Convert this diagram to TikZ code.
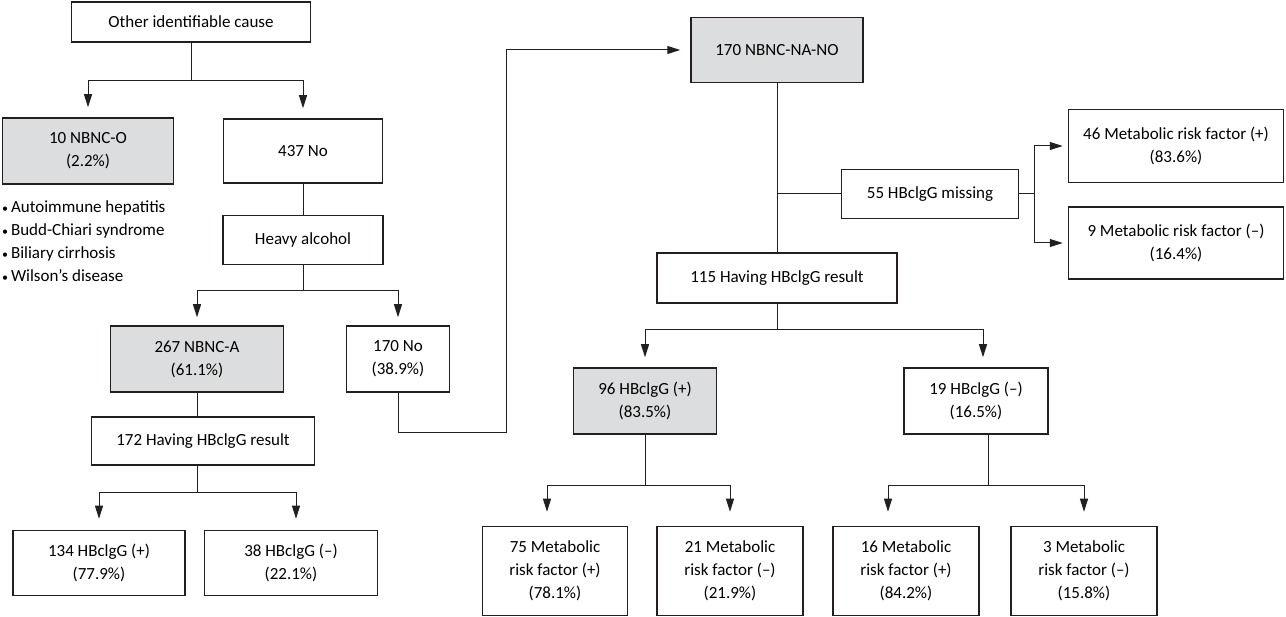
\documentclass[tikz,border=0pt]{standalone}
\usepackage{fontspec}
\setmainfont{Carlito}
\usetikzlibrary{arrows.meta,calc}
\definecolor{ink}{RGB}{35,31,32}
\definecolor{shade}{RGB}{220,221,222}
\newcommand{\dotitem}{{\fontsize{12}{12}\selectfont •}\,}

\begin{document}
\begin{tikzpicture}
        [x=1pt,y=-1pt,
        box/.style={draw=ink, line width=1.5pt, align=center, inner sep=0pt,
          font=\fontsize{17}{23}\selectfont},
        grey/.style={box, fill=shade},
        link/.style={draw=ink, line width=1pt},
        arr/.style={link, -{Triangle[length=13pt,width=8pt]}}]
        \useasboundingbox (0,0) rectangle (1286,617);
        % left branch
        \node[box, minimum width=239, minimum height=40] (cause) at (191,22) {Other identifiable cause};
        \node[grey, minimum width=171, minimum height=66] (nbnco) at (88,151) {10 NBNC-O\\(2.2\%)};
        \node[box, minimum width=159, minimum height=64] (no437) at (303,151) {437 No};
        \node[anchor=north west, align=left, inner sep=0pt, font=\fontsize{17}{23}\selectfont]
          (causes) at (2,200) {\dotitem Autoimmune hepatitis\\\dotitem Budd-Chiari syndrome\\\dotitem Biliary cirrhosis\\\dotitem Wilson’s disease};
        \node[box, minimum width=160, minimum height=49] (heavy) at (303,240) {Heavy alcohol};
        \node[grey, minimum width=173, minimum height=66] (nbnca) at (197,359) {267 NBNC-A\\(61.1\%)};
        \node[box, minimum width=103, minimum height=66] (no170) at (398,359) {170 No\\(38.9\%)};
        \node[box, minimum width=223, minimum height=48] (have172) at (203,441) {172 Having HBclgG result};
        \node[box, minimum width=172, minimum height=65] (hb134) at (99,563) {134 HBclgG (+)\\(77.9\%)};
        \node[box, minimum width=173, minimum height=65] (hb38) at (291,563) {38 HBclgG (–)\\(22.1\%)};
        % right branch
        \node[grey, minimum width=172, minimum height=65] (nano) at (777,50) {170 NBNC-NA-NO};
        \node[box, minimum width=177, minimum height=49] (miss55) at (930,194) {55 HBclgG missing};
        \node[box, minimum width=215, minimum height=73] (met46) at (1176,146) {46 Metabolic risk factor (+)\\(83.6\%)};
        \node[box, minimum width=215, minimum height=72] (met9) at (1176,243) {9 Metabolic risk factor (–)\\(16.4\%)};
        \node[box, minimum width=240, minimum height=50] (have115) at (777,278) {115 Having HBclgG result};
        \node[grey, minimum width=143, minimum height=66] (hb96) at (645,401) {96 HBclgG (+)\\(83.5\%)};
        \node[box, minimum width=144, minimum height=66] (hb19) at (976,401) {19 HBclgG (–)\\(16.5\%)};
        \node[box, minimum width=145, minimum height=89] (m75) at (555,571) {75 Metabolic\\risk factor (+)\\(78.1\%)};
        \node[box, minimum width=146, minimum height=89] (m21) at (730,571) {21 Metabolic\\risk factor (–)\\(21.9\%)};
        \node[box, minimum width=146, minimum height=89] (m16) at (906,571) {16 Metabolic\\risk factor (+)\\(84.2\%)};
        \node[box, minimum width=146, minimum height=89] (m3) at (1084,571) {3 Metabolic\\risk factor (–)\\(15.8\%)};
        % connectors
        \draw[link] (cause.south) -- ++(0,38) coordinate (f1);
        \draw[arr, shorten >=10pt] (f1) -| (nbnco.north);
        \draw[arr, shorten >=10pt] (f1) -| (no437.north);
        \draw[link] (no437.south) -- (heavy.north);
        \draw[link] (heavy.south) -- ++(0,25) coordinate (f2);
        \draw[arr, shorten >=8pt] (f2) -| (nbnca.north);
        \draw[arr, shorten >=8pt] (f2) -| (no170.north);
        \draw[link] (nbnca.south) -- (nbnca.south |- have172.north);
        \draw[link] ([xshift=-6pt]have172.south) -- ++(0,27) coordinate (f3);
        \draw[arr, shorten >=11pt] (f3) -| (hb134.north);
        \draw[arr, shorten >=11pt] (f3) -| ([xshift=5pt]hb38.north);
        \draw[arr] (no170.south) -- ++(0,40) -| ([xshift=-184pt]nano.west) -- ([xshift=-10pt]nano.west);
        \draw[link] (nano.south) -- (have115.north);
        \draw[link] (nano.south |- miss55.west) -- (miss55.west);
        \draw[link] (miss55.east) -- ++(15,0) coordinate (f5);
        \draw[arr, shorten >=5pt] (f5) |- (met46.west);
        \draw[arr, shorten >=5pt] (f5) |- (met9.west);
        \draw[link] (have115.south) -- ++(0,26) coordinate (f6);
        \draw[arr, shorten >=10pt] (f6) -| (hb96.north);
        \draw[arr, shorten >=10pt] (f6) -| ([xshift=7pt]hb19.north);
        \draw[link] (hb96.south) -- ++(0,51) coordinate (f7);
        \draw[arr, shorten >=14pt] (f7) -| ([xshift=-8pt]m75.north);
        \draw[arr, shorten >=14pt] (f7) -| (m21.north);
        \draw[link] ([xshift=12pt]hb19.south) -- ++(0,51) coordinate (f8);
        \draw[arr, shorten >=14pt] (f8) -| ([xshift=-18pt]m16.north);
        \draw[arr, shorten >=14pt] (f8) -| (m3.north);
\end{tikzpicture}
\end{document}
